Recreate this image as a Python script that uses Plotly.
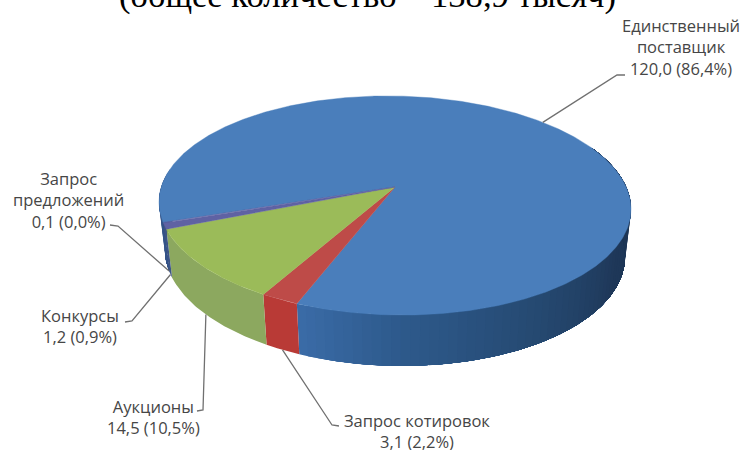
import numpy as np
import plotly.graph_objects as go

# ---- data ----
categories = ["Единственный<br>поставщик", "Запрос котировок", "Аукционы", "Конкурсы", "Запрос<br>предложений"]
values = [120.0, 3.1, 14.5, 1.2, 0.1]
percents = [86.4, 2.2, 10.5, 0.9, 0.0]
title_text = "(общее количество – 138,9 тысяч)"

# ---- styles ----
top_colors = ["#4a7ebb", "#be4b48", "#9bbb59", "#5f62a3", "#5f62a3"]
wall_stops = [
    [(170, "#34507f"), (200, "#35558a"), (201, "#3b6ca6"), (250, "#3a6ba6"), (270, "#2e5a8c"), (300, "#264a72"), (330, "#1f3859"), (380, "#1d3452")],
    [(0, "#b93a36"), (360, "#b93a36")],
    [(0, "#8ca85f"), (360, "#8ca85f")],
    [(0, "#3d5585"), (360, "#3d5585")],
    [(0, "#3d5585"), (360, "#3d5585")],
]
CX, CY, R, B, K, SHEAR = 395.0, 187.0, 232.6, 106.4, 0.169, 0.015
DEPTH, XS, YS = 47.0, 0.975, 1.03
START = 560.2
TEXT = "#464646"
FONT = "Open Sans"
label_style = [
    dict(x=681, y=47, elbow=[(617, 75), (625, 75)], rim="top"),
    dict(x=417, y=431, elbow=[(332, 425), (339, 426)], rim="low"),
    dict(x=153, y=417, elbow=[(203, 410), (197, 411)], rim="low"),
    dict(x=80, y=326, elbow=[(132, 321), (125, 322)], rim="low"),
    dict(x=68, y=200, elbow=[(118, 226), (110, 225)], rim="low"),
]


def upper(deg):
    t = np.radians(deg)
    u, v = np.cos(t), np.sin(t)
    den = 1 + K * v
    dx = R * u / den
    return CX + dx, CY - B * v / den + SHEAR * dx


def lower(deg):
    t = np.radians(deg)
    u, v = np.cos(t), np.sin(t)
    den = 1 + K * v
    dx = R * XS * u / den
    return CX + dx, CY + DEPTH - B * YS * v / den + SHEAR * dx


def mix(stops, a):
    ang = [s[0] for s in stops]
    rgb = [[int(s[1][i:i + 2], 16) for i in (1, 3, 5)] for s in stops]
    c = [np.interp(a, ang, [r[j] for r in rgb]) for j in range(3)]
    return "rgb(%d,%d,%d)" % tuple(c)


total = sum(values)
spans = [v / total * 360 for v in values]
ends = START - np.cumsum(spans)
starts = ends + np.array(spans)

fig = go.Figure()


def poly(xs, ys, color, width=0.0):
    fig.add_trace(go.Scatter(x=xs, y=ys, mode="lines", fill="toself", fillcolor=color,
                             line=dict(color=color, width=width), hoverinfo="skip", showlegend=False))


# walls: each band runs on to the slice's far end, so no seams show between bands.
# The blue slice wraps round, so it is painted as two visible runs.
wall_runs = [(0, ends[0], 385.0), (0, 172.0, starts[0] - 360)]
wall_runs += [(i, ends[i], starts[i]) for i in range(1, len(values))]
for i, lo, hi in wall_runs:
    step = 2.0 if i == 0 else 400.0
    for a in np.arange(lo, hi, step):
        aa = np.linspace(a, hi, max(3, int((hi - a) * 2)))
        ux, uy = upper(aa)
        lx, ly = lower(aa)
        poly(np.r_[ux, lx[::-1]], np.r_[uy, ly[::-1]], mix(wall_stops[i], a))

# top surface
for i in range(len(values)):
    aa = np.linspace(starts[i], ends[i], max(3, int(spans[i] * 2)))
    ux, uy = upper(aa)
    poly(np.r_[CX, ux, CX], np.r_[CY, uy, CY], top_colors[i], 0.4)

# leader lines, anchored on each slice's middle angle
for i, st in enumerate(label_style):
    mid = (starts[i] + ends[i]) / 2
    ax, ay = (upper if st["rim"] == "top" else lower)(mid)
    pts = [(float(ax), float(ay))] + st["elbow"]
    fig.add_trace(go.Scatter(x=[p[0] for p in pts], y=[p[1] for p in pts], mode="lines",
                             line=dict(color="#707070", width=1.3), hoverinfo="skip", showlegend=False))
    fig.add_annotation(x=st["x"], y=st["y"], xref="x", yref="y", showarrow=False, align="center",
                       text=f"{categories[i]}<br>{str(values[i]).replace('.', ',')} ({str(percents[i]).replace('.', ',')}%)",
                       font=dict(family=FONT, size=16.5, color=TEXT))

fig.add_annotation(x=367, y=17, xref="x", yref="y", yanchor="bottom", showarrow=False,
                   text=title_text, font=dict(family="Liberation Serif", size=34.6, color="#000000"))

fig.update_layout(width=741, height=450, margin=dict(l=0, r=0, t=0, b=0),
                  paper_bgcolor="white", plot_bgcolor="white", showlegend=False,
                  xaxis=dict(range=[0, 741], visible=False, fixedrange=True),
                  yaxis=dict(range=[450, 0], visible=False, fixedrange=True))
fig.write_html("out.html", config=dict(displayModeBar=False),
               post_script="document.body.style.margin='0';document.documentElement.style.overflow='hidden';")
